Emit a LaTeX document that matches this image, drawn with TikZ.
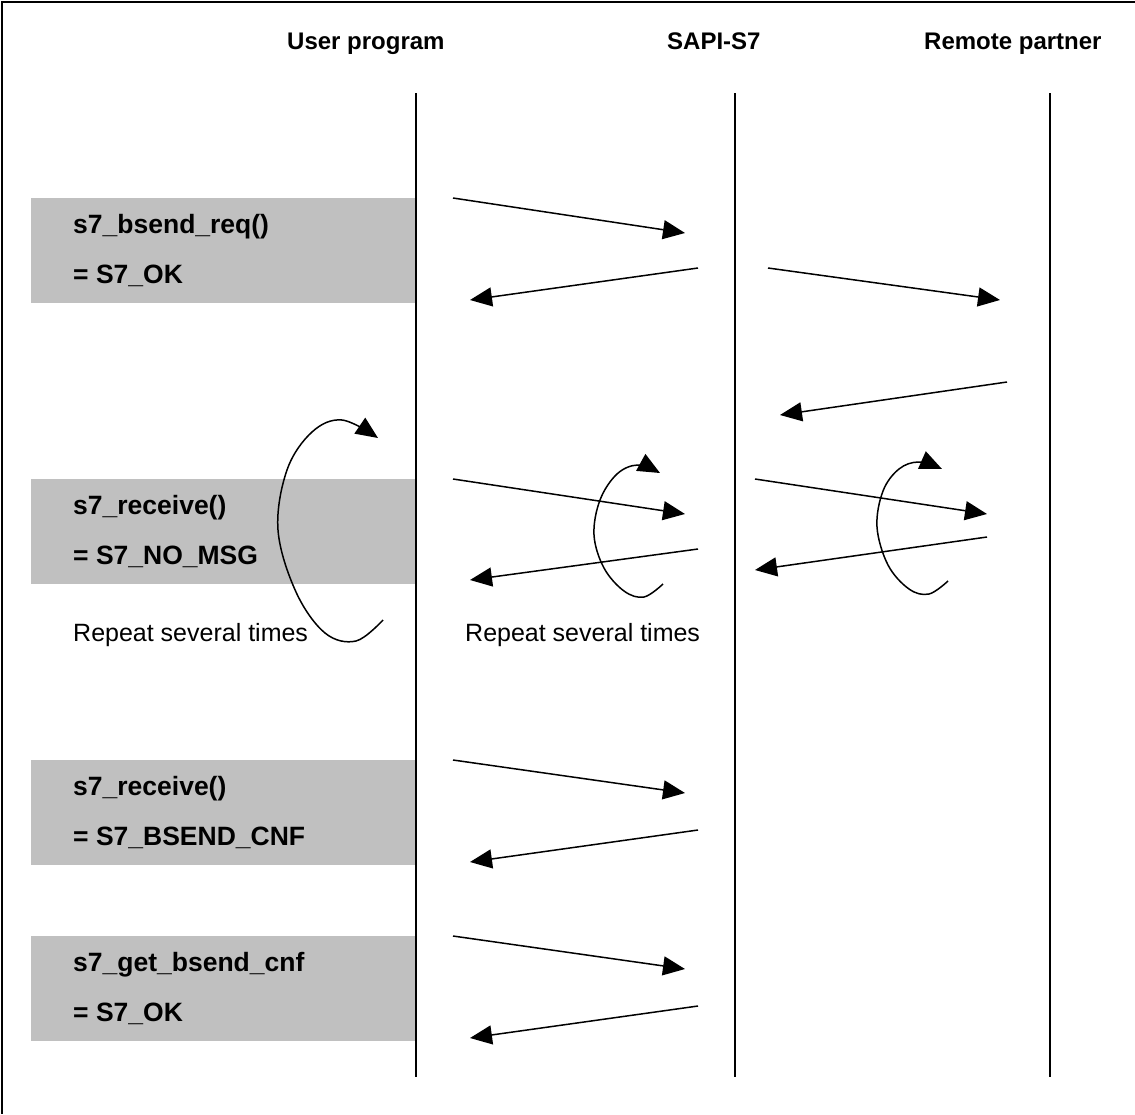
\documentclass[tikz,border=0pt]{standalone}
\usepackage{fontspec}
\setmainfont{Liberation Sans}
\usetikzlibrary{arrows.meta}
\definecolor{boxgray}{RGB}{192,192,192}
\begin{document}
\begin{tikzpicture}[x=1pt,y=-1pt,
  title/.style={anchor=base west,font=\fontsize{24}{28}\selectfont\bfseries,inner sep=0pt},
  call/.style={anchor=base west,font=\fontsize{26.5}{30}\selectfont\bfseries,inner sep=0pt},
  note/.style={anchor=base west,font=\fontsize{25}{28}\selectfont,inner sep=0pt},
  life/.style={line width=1.3pt},
  msg/.style={line width=1.5pt,-{Triangle[length=22pt,width=19pt]}},
  loop/.style={line width=1.5pt,-{Triangle[length=22pt,width=19pt]}},
  callbox/.style={fill=boxgray,draw=none}]
\useasboundingbox (0,0) rectangle (1135,1114);
% frame
\draw[line width=2.5pt] (1135,2) -- (2,2) -- (2,1114);

% titles
\node[title] (tuser) at (287,49) {User program};
\node[title] (tsapi) at (667,49) {SAPI-S7};
\node[title] (trem) at (924,49) {Remote partner};

% call boxes
\foreach \t/\n in {198/b1,479/b2,760/b3,936/b4}
  \path[callbox] (31,\t) rectangle (416,\t+105) coordinate (\n);

% lifelines
\draw[life] (416,93) coordinate (u0) -- (416,1077) coordinate (u1);
\draw[life] (735,93) coordinate (s0) -- (735,1077) coordinate (s1);
\draw[life] (1050,93) coordinate (r0) -- (1050,1077) coordinate (r1);

% call texts
\node[call] (c1a) at (73,233) {s7\_bsend\_req()};
\node[call] (c1b) at (73,283) {= S7\_OK};
\node[call] (c2a) at (73,514) {s7\_receive()};
\node[call] (c2b) at (73,564) {= S7\_NO\_MSG};
\node[call] (c3a) at (73,795) {s7\_receive()};
\node[call] (c3b) at (73,845) {= S7\_BSEND\_CNF};
\node[call] (c4a) at (73,971) {s7\_get\_bsend\_cnf};
\node[call] (c4b) at (73,1021) {= S7\_OK};

\node[note] (rep1) at (73,641) {Repeat several times};
\node[note] (rep2) at (465,641) {Repeat several times};

% message end points
\coordinate (m1a) at (453,198);  \coordinate (m1b) at (685,233);
\coordinate (m2a) at (698,268);  \coordinate (m2b) at (470,300);
\coordinate (m3a) at (768,268);  \coordinate (m3b) at (1000,300);
\coordinate (m4a) at (1007,382); \coordinate (m4b) at (780,415);
\coordinate (m5a) at (453,479);  \coordinate (m5b) at (685,514);
\coordinate (m6a) at (698,549);  \coordinate (m6b) at (470,580);
\coordinate (m7a) at (755,479);  \coordinate (m7b) at (987,514);
\coordinate (m8a) at (987,537);  \coordinate (m8b) at (755,570);
\coordinate (m9a) at (453,760);  \coordinate (m9b) at (685,793);
\coordinate (m10a) at (698,830); \coordinate (m10b) at (470,862);
\coordinate (m11a) at (453,936); \coordinate (m11b) at (685,969);
\coordinate (m12a) at (698,1006);\coordinate (m12b) at (470,1038);

\foreach \i in {1,...,12}
  \draw[msg] (m\i a) -- (m\i b);

% repetition loops
\draw[loop] plot[smooth,tension=0.6] coordinates
  {(383,620) (356,641) (325,633) (296,592) (278,530) (287,470) (312,432) (342,420) (378,438)};
\draw[loop] plot[smooth,tension=0.6] coordinates
  {(663,584) (644,597) (624,591) (604,568) (594,535) (600,500) (617,474) (638,465) (660,473)};
\draw[loop] plot[smooth,tension=0.6] coordinates
  {(948,581) (929,594) (909,589) (888,565) (877,527) (883,491) (899,469) (919,462) (942,469)};
\end{tikzpicture}
\end{document}
